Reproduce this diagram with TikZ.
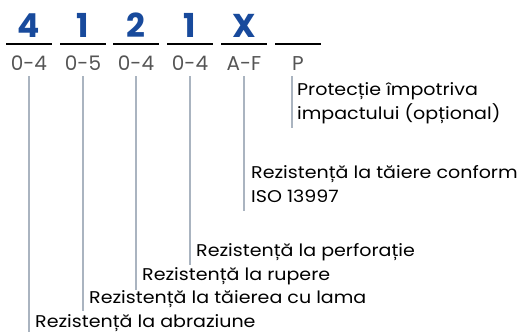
\documentclass[tikz,border=0pt]{standalone}
\usepackage{fontspec}
\setmainfont{Poppins}
\newfontfamily\descfont[FakeStretch=1.12]{Poppins}
\definecolor{codeblue}{RGB}{24,74,156}
\definecolor{rangegrey}{RGB}{85,85,85}
\definecolor{leadgrey}{RGB}{170,180,192}
\begin{document}
\begin{tikzpicture}[x=1pt,y=-1pt,
  digit/.style={anchor=base,inner sep=0pt,text=codeblue,font=\fontsize{33}{33}\selectfont\bfseries},
  rangelbl/.style={anchor=base,inner sep=0pt,text=rangegrey,font=\fontsize{20}{20}\selectfont},
  desc/.style={anchor=base west,inner sep=0pt,text=black,font=\descfont\fontsize{17}{17}\selectfont},
  slot/.style={line width=2pt,black},
  lead/.style={line width=1.5pt,leadgrey}]
\useasboundingbox (0,0) rectangle (522,332);
% code characters
\node[digit] (d1) at (29,37) {4};
\node[digit] (d2) at (83,37) {1};
\node[digit] (d3) at (136,37) {2};
\node[digit] (d4) at (190,37) {1};
\node[digit] (d5) at (244,37) {X};
% slots
\foreach \i/\a/\b in {1/6/52,2/60/106,3/113/159,4/167/213,5/221/267,6/275/321}{
  \coordinate (s\i a) at (\a,44);
  \coordinate (s\i b) at (\b,44);
  \draw[slot] (s\i a) -- (s\i b);
}
% ranges
\node[rangelbl] (r1) at (29,70) {0-4};
\node[rangelbl] (r2) at (83,70) {0-5};
\node[rangelbl] (r3) at (136,70) {0-4};
\node[rangelbl] (r4) at (190,70) {0-4};
\node[rangelbl] (r5) at (244,70) {A-F};
\node[rangelbl] (r6) at (298,70) {P};
% descriptions
\node[desc] (t6a) at (297,95) {Protecție împotriva};
\node[desc] (t6b) at (297,119) {impactului (opțional)};
\node[desc] (t5a) at (251,178) {Rezistență la tăiere conform};
\node[desc] (t5b) at (251,202) {ISO 13997};
\node[desc] (t4) at (196,256) {Rezistență la perforație};
\node[desc] (t3) at (142,280) {Rezistență la rupere};
\node[desc] (t2) at (89,303.5) {Rezistență la tăierea cu lama};
\node[desc] (t1) at (35,327) {Rezistență la abraziune};
% leader lines
\foreach \i/\x/\e in {1/29/332,2/83/311,3/136/290,4/190/265,5/244/211,6/292/128}{
  \coordinate (l\i a) at (\x,76);
  \coordinate (l\i b) at (\x,\e);
  \draw[lead] (l\i a) -- (l\i b);
}
\end{tikzpicture}
\end{document}
